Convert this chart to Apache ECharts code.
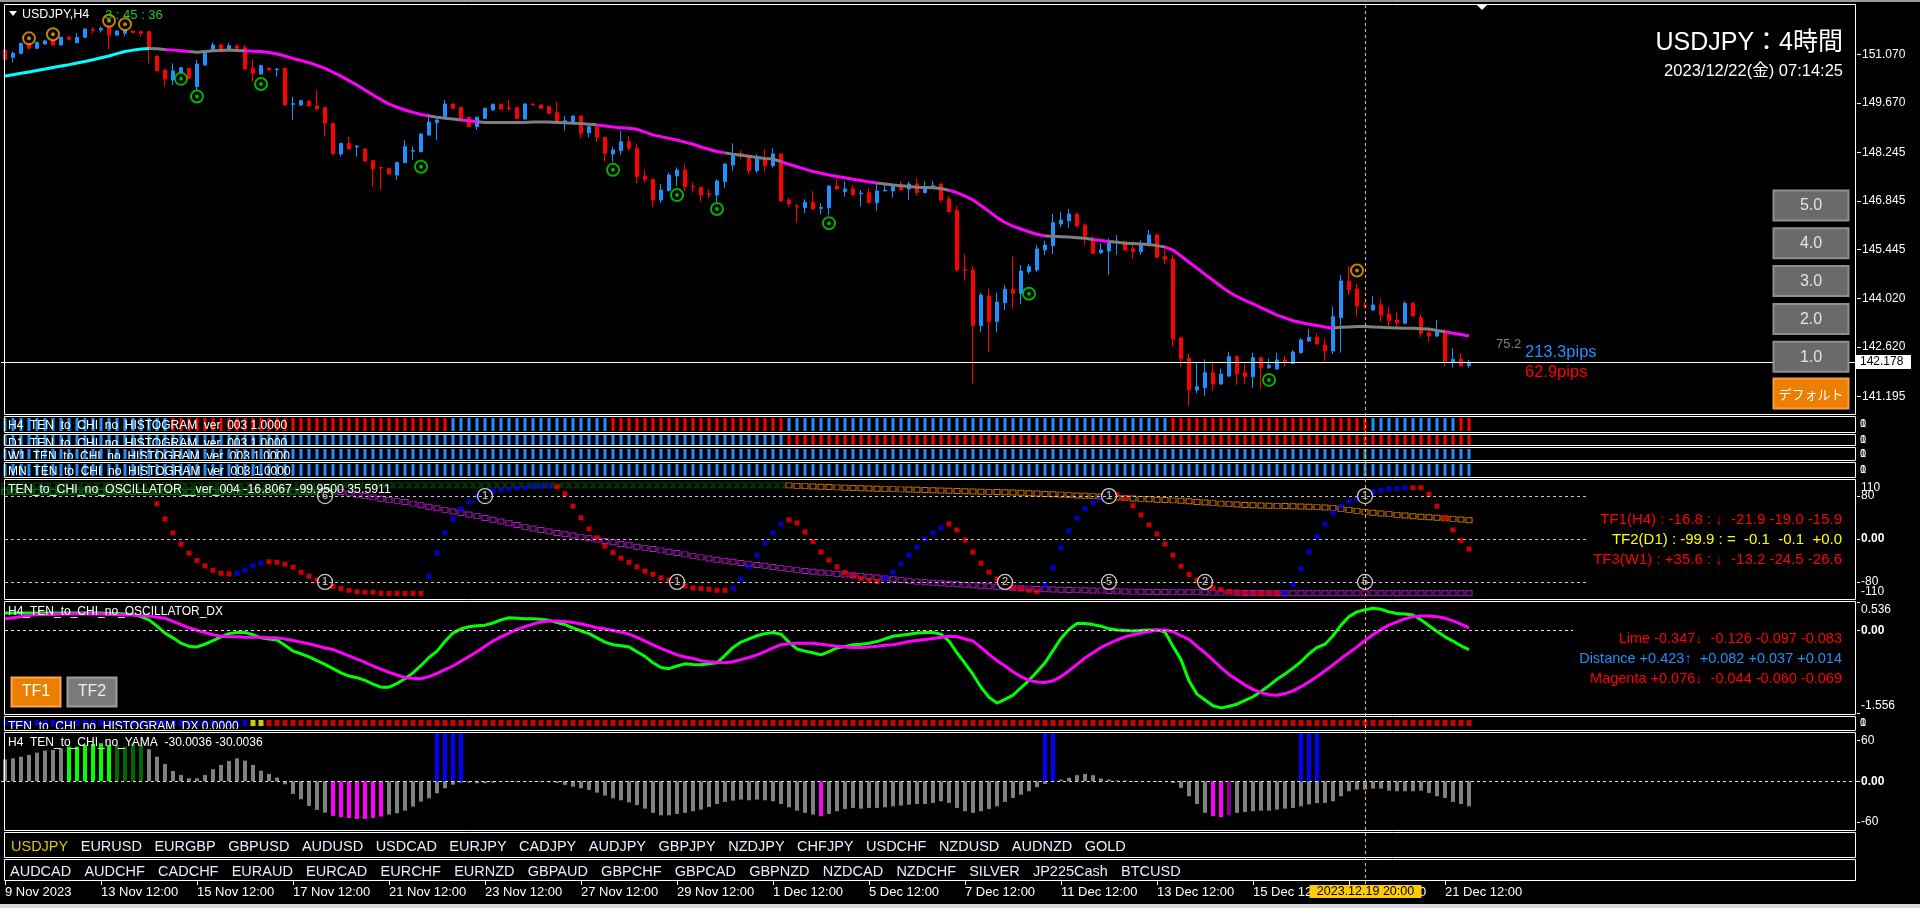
<!DOCTYPE html>
<html>
<head>
<meta charset="utf-8">
<title>USDJPY H4</title>
<script src="https://cdn.jsdelivr.net/npm/echarts@6.0.0/dist/echarts.min.js"></script>
<style>
html,body{margin:0;padding:0;background:#000;overflow:hidden;}
#chart{width:1920px;height:908px;}
</style>
</head>
<body>
<div id="chart"></div>
<script>
// ================= DATA =================
const opens = [151.204,150.992,151.108,151.377,151.252,151.377,151.474,151.348,151.570,151.416,
151.570,151.79,151.782,151.859,151.637,151.686,151.753,151.734,151.734,151.031,
150.626,150.337,150.558,150.674,150.144,150.770,151.204,151.348,151.233,151.320,
151.271,150.684,150.510,150.674,150.635,150.674,149.633,149.614,149.730,149.585,
149.547,149.084,148.198,148.506,148.40,148.343,148.005,147.81,147.784,147.591,
147.948,148.28,148.266,148.747,149.104,149.258,149.643,149.547,149.258,148.988,
149.229,149.470,149.634,149.53,149.537,149.210,149.64,149.614,149.566,149.393,
149.14,149.133,149.296,148.815,148.988,148.680,148.198,148.294,148.555,148.362,
147.563,147.466,146.869,147.139,147.563,147.736,147.265,147.235,147.05,147.013,
147.399,147.880,148.21,148.121,147.717,148.044,147.861,148.198,146.869,146.69,
146.647,146.801,146.63,146.647,147.273,147.110,147.187,147.05,147.081,146.792,
147.13,147.129,147.322,147.187,147.331,147.081,147.206,147.331,146.898,146.561,
144.86,144.846,143.237,144.094,143.352,143.902,144.287,144.171,144.798,144.846,
145.424,145.549,146.175,146.272,146.464,146.146,145.713,145.347,145.395,145.655,
145.665,145.453,145.376,145.568,145.857,145.231,145.164,142.881,142.302,141.378,
141.445,141.879,141.551,141.782,142.341,141.879,141.763,142.312,142.023,141.985,
142.245,142.148,142.457,142.794,142.900,142.678,142.505,143.468,144.528,144.297,
143.825,143.690,143.834,143.574,143.401,143.304,143.882,143.468,143.035,142.938,
143.035,142.177,142.264,142.081];
const highs = [151.25,151.156,151.42,151.40,151.44,151.50,151.50,151.59,151.60,151.686,
151.83,151.86,151.878,151.90,151.77,151.80,151.77,151.763,151.76,151.05,
150.64,150.819,150.71,150.69,150.915,151.13,151.42,151.37,151.41,151.38,
151.35,150.934,150.78,150.70,150.674,150.70,149.855,149.76,149.75,150.029,
149.56,149.10,148.52,148.70,148.458,148.36,148.02,147.832,147.80,147.97,
148.603,148.410,148.80,149.373,149.20,149.759,149.66,149.56,149.28,149.28,
149.54,149.66,149.66,149.759,149.56,149.66,149.66,149.64,149.59,149.711,
149.30,149.32,149.32,149.00,149.00,148.70,148.41,148.873,148.72,148.507,
147.736,147.48,147.331,147.668,147.813,147.900,147.389,147.25,147.177,147.466,
147.93,148.507,148.295,148.189,148.198,148.333,148.362,148.22,146.936,146.753,
146.888,147.129,146.773,147.29,147.476,147.399,147.302,147.158,147.206,147.351,
147.379,147.351,147.418,147.399,147.495,147.399,147.418,147.35,146.984,146.695,
145.308,144.961,144.191,144.316,144.191,144.412,145.231,144.990,145.019,145.568,
145.694,146.464,146.532,146.609,146.503,146.195,145.829,145.617,145.761,145.857,
145.694,145.568,145.713,146.002,145.906,145.443,145.279,142.919,142.437,142.168,
142.264,142.168,142.004,142.486,142.389,142.148,142.457,142.341,142.293,142.457,
142.360,142.534,142.881,143.141,143.015,142.852,143.786,144.701,144.961,144.441,
143.931,144.094,144.008,143.786,143.632,143.950,143.921,143.574,143.131,143.401,
143.131,142.582,142.437,142.245];
const lows = [150.92,150.838,151.08,151.23,151.23,151.35,151.33,151.33,151.50,151.40,
151.55,151.686,151.705,151.223,151.62,151.60,151.69,151.589,150.819,150.58,
150.144,150.192,150.54,150.37,150.048,150.75,151.19,151.18,151.21,151.23,
150.63,150.289,150.49,150.60,150.43,149.59,149.181,149.59,149.57,149.47,
148.699,148.17,148.12,148.32,148.121,147.98,147.254,147.158,147.60,147.447,
147.93,148.025,148.24,148.73,148.603,149.24,149.50,149.16,148.97,148.892,
149.21,149.45,149.48,149.451,149.21,149.19,149.60,149.50,149.35,149.084,
148.873,149.11,148.651,148.67,148.555,147.977,147.977,148.169,148.295,147.35,
147.370,146.657,146.792,147.12,147.273,147.129,147.081,146.821,146.917,146.821,
147.206,147.717,148.044,147.611,147.659,147.688,147.803,146.821,146.657,146.214,
146.484,146.580,146.455,146.435,147.158,146.965,147.00,146.676,146.773,146.561,
147.110,146.936,147.139,146.869,146.994,147.062,147.19,146.792,146.503,144.798,
144.537,141.570,143.044,142.485,143.044,143.690,143.738,143.853,144.730,144.798,
145.279,145.308,146.079,146.050,146.079,145.568,145.308,145.308,144.701,145.279,
145.40,145.164,145.279,145.520,145.183,145.019,142.630,142.033,140.915,141.281,
141.204,141.358,141.53,141.744,141.522,141.551,141.445,141.407,141.985,141.956,
142.052,142.129,142.428,142.765,142.697,142.216,142.418,142.457,144.123,143.497,
143.738,143.661,143.353,143.227,143.208,143.285,143.497,142.900,142.775,142.900,
142.052,142.023,142.052,142.023];
const closes = [150.934,151.108,151.397,151.252,151.425,151.464,151.348,151.570,151.512,151.570,
151.811,151.77,151.830,151.637,151.753,151.782,151.705,151.686,151.252,150.607,
150.366,150.597,150.693,150.385,150.799,151.108,151.348,151.204,151.329,151.252,
150.655,150.530,150.751,150.626,150.655,149.614,149.653,149.740,149.585,149.499,
149.084,148.198,148.506,148.343,148.42,147.996,147.765,147.79,147.620,147.957,
148.410,148.30,148.776,149.123,149.181,149.643,149.518,149.181,148.988,149.258,
149.518,149.634,149.499,149.51,149.229,149.643,149.62,149.518,149.373,149.133,
149.16,149.296,148.795,148.988,148.680,148.217,148.314,148.555,148.362,147.543,
147.466,146.869,147.158,147.591,147.736,147.254,147.245,147.013,147.03,147.418,
147.909,148.169,148.19,147.717,148.121,147.861,148.198,146.840,146.763,146.67,
146.801,146.609,146.65,147.273,147.187,147.187,147.013,147.07,146.792,147.129,
147.15,147.254,147.158,147.331,147.081,147.206,147.283,146.869,146.532,144.846,
144.84,143.237,144.123,143.352,143.921,144.287,144.171,144.817,144.942,145.453,
145.568,146.214,146.291,146.464,146.118,145.829,145.328,145.424,145.665,145.675,
145.424,145.376,145.568,145.857,145.212,145.154,142.852,142.274,141.378,141.474,
141.879,141.551,141.840,142.341,141.840,141.763,142.312,142.023,142.091,142.245,
142.168,142.476,142.823,142.900,142.707,142.505,143.497,144.528,144.268,143.805,
143.805,143.834,143.545,143.381,143.324,143.882,143.516,143.015,142.938,143.063,
142.197,142.264,142.081,142.178];

// moving average and its trend state (up = cyan, flat = gray, down = magenta)
const maValues = [150.45,150.49,150.53,150.57,150.61,150.655,150.70,150.74,150.78,150.83,
150.87,150.92,150.98,151.03,151.10,151.16,151.20,151.23,151.25,151.24,
151.22,151.20,151.18,151.16,151.14,151.16,151.18,151.19,151.20,151.19,
151.18,151.17,151.16,151.13,151.09,151.03,150.96,150.90,150.84,150.76,
150.67,150.56,150.45,150.32,150.19,150.05,149.90,149.77,149.64,149.55,
149.47,149.40,149.34,149.30,149.26,149.23,149.21,149.18,149.16,149.13,
149.11,149.11,149.11,149.11,149.11,149.11,149.12,149.12,149.12,149.11,
149.10,149.09,149.08,149.06,149.04,149.01,148.98,148.96,148.94,148.91,
148.83,148.75,148.70,148.65,148.60,148.54,148.48,148.40,148.33,148.27,
148.23,148.19,148.16,148.13,148.10,148.07,148.05,147.98,147.90,147.83,
147.76,147.69,147.64,147.59,147.55,147.51,147.47,147.43,147.39,147.36,
147.33,147.30,147.28,147.26,147.24,147.23,147.22,147.20,147.15,147.08,
146.98,146.87,146.71,146.54,146.36,146.22,146.11,146.03,145.95,145.88,
145.83,145.82,145.81,145.80,145.78,145.76,145.73,145.70,145.67,145.65,
145.62,145.61,145.60,145.58,145.55,145.51,145.42,145.25,145.07,144.90,
144.72,144.55,144.37,144.21,144.08,143.97,143.87,143.76,143.65,143.54,
143.46,143.38,143.33,143.28,143.24,143.20,143.17,143.19,143.20,143.21,
143.21,143.20,143.19,143.18,143.17,143.16,143.16,143.15,143.14,143.10,
143.06,143.02,142.98,142.94];
const maTrend = [[0,18,'up'],[18,20,'flat'],[20,23,'down'],[23,30,'flat'],[30,53,'down'],[53,57,'flat'],
[57,59,'down'],[59,74,'flat'],[74,90,'down'],[90,97,'flat'],[97,109,'down'],[109,118,'flat'],
[118,130,'down'],[130,136,'flat'],[136,138,'down'],[138,145,'flat'],[145,166,'down'],[166,180,'flat'],[180,183,'down']];

// signal rings
const orangeRingIdx = [3,6,13,15,169];
const orangeRingPrice = [151.54,151.66,152.05,151.95,144.83];
const greenRingIdx = [22,24,32,52,76,84,89,103,128,158];
const greenRingPrice = [150.37,149.86,150.22,147.83,147.74,147.01,146.61,146.20,144.16,141.67];

// price axis tick labels
const priceTicks = [151.070,149.670,148.245,146.845,145.445,144.020,142.620,141.195];

// histogram rows: u = blue, d = red
const h4Hist = [[0,20,'u'],[21,55,'d'],[56,75,'u'],[76,97,'d'],[98,145,'u'],[146,170,'d'],[171,181,'u'],[182,183,'d']];
const d1Hist = [[0,97,'u'],[98,183,'d']];
const w1Hist = [[0,183,'u']];
const mnHist = [[0,183,'u']];

// H4 oscillator (dots)
const oscH4 = [null,null,null,null,null,null,null,null,null,null,null,null,null,null,null,null,null,null,null,
65.7,37.5,11.2,-9.4,-26.3,-40.1,-50.1,-58.2,-63.9,-65.1,
-63.9,-58.2,-50.1,-45.1,-42.6,-43.2,-46.9,-52.5,-61.9,-69.4,
-76.4,-82,-88.2,-92.6,-95.7,-98.3,-99.4,-99.4,-101.3,-101.3,
-101.3,-101.3,-101.3,-101.3,-69.4,-26.3,11.2,37.5,55.5,69.4,
78.8,85,89.3,91.2,93.1,94.9,96.2,97.5,98.1,98.7,
97.5,84.4,61.2,39.4,18.8,2.4,-13.1,-25.1,-35.6,-43.1,
-51.8,-60,-65.6,-72.5,-76.8,-80.6,-87.5,-91.2,-92.5,-93.7,
-95.6,-95.6,-91.8,-75,-51.2,-30,-7.5,11.3,28.2,35.7,
30.1,13.2,-5,-24.3,-39.3,-51.8,-62.5,-68.7,-73.7,-76.8,
-79.3,-73.1,-61.8,-46.8,-30,-15,0,11.3,20.7,28.2,
16.9,-1.8,-24.3,-45,-61.8,-74.3,-80.6,-91.2,-93.1,-95.6,
-98.1,-85.6,-54.3,-16.8,15,38.8,56.3,67.5,76.3,80,
82.5,76.3,61.9,45,26.3,9.4,-9.4,-30,-50.6,-66.2,
-76.8,-80.6,-91.2,-94.3,-98.1,-99.3,-100,-101.2,-101.2,-101.2,
-101.2,-100,-85,-56,-24.4,5,28.1,48.8,61.3,70.6,
76,80,87.5,90.6,93.8,93.8,95.6,95.6,95.6,83.1,
61.3,39.4,16.9,-2.5,-18.8];
const oscTrend = [[19,28,'d'],[29,32,'u'],[33,52,'d'],[53,68,'u'],[69,90,'d'],[91,97,'u'],[98,109,'d'],
[110,117,'u'],[118,129,'d'],[130,138,'u'],[139,159,'d'],[160,175,'u'],[176,183,'d']];

// W1 line (hollow squares): dark green then orange
const tfW1 = [100,100,100,100,100,100,100,100,100,100,
100,100,100,100,100,100,100,100,100,100,
100,100,100,100,100,100,100,100,100,100,
100,100,100,100,100,100,100,100,100,100,
100,100,100,100,100,100,100,100,100,100,
100,100,100,100,100,100,100,100,100,100,
100,100,100,100,100,100,100,100,100,100,
100,100,100,100,100,100,100,100,100,100,
100,100,100,100,100,100,100,100,100,100,
100,100,100,100,100,100,100,100,
100,99,98.5,98,97.5,97,96.3,95.7,95.2,94.7,
94.2,93.8,93.4,93,92.6,92.2,91.9,91.4,90.9,90.4,
89.9,89.4,89,88.6,88.2,87.9,87.6,87.3,86.8,86.1,
85.4,84.8,84,83.5,82.8,81.8,81.2,80.6,80,79.2,
78.3,77.5,76.6,75.6,74.8,74,73.3,72.6,72,71.4,
70.3,69.1,68,66.9,65.9,65,64.2,63.5,62.9,62.4,
62.1,61.8,61.5,61,60.5,60,59.4,58.8,58.1,56.2,
54.3,52.4,50.6,48.8,47.5,46.3,45,43.8,42.5,41.5,
40.5,39.5,38.5,37.5,36.3,35];
const tfW1State = [[0,97,'dg'],[98,183,'or']];
// D1 line (hollow squares): green then magenta
const tfD1 = [88,88,88,88,88,88,88,88,88,88,
88,88,88,88,88,88,88,88,88,88,
88,88,88,88,88,88,88,88,88,88,
88,88,88,88,88,88,88,88,88,88,
88,88,
87.6,85,82.6,80,77.6,75.1,73,71,68.9,66,
63,60.1,57.2,54.3,51.4,48.5,45.6,42.6,39.3,36,
32.6,29.3,26,22.6,19.7,16.8,13.9,11.2,8.8,6.4,
3.9,1.4,-1.1,-3.6,-6.1,-9.3,-11.8,-14.3,-16.5,-18.7,
-21.2,-23.7,-26.2,-28.7,-31.5,-34.3,-36.5,-38.7,-40.6,-42.5,
-44.7,-46.8,-48.4,-50,-52.1,-54.3,-56.2,-58.1,-59.7,-61.2,
-62.5,-63.7,-65,-66.2,-67.5,-68.7,-70.3,-71.8,-73.4,-75,
-76.6,-78.1,-79.4,-80.6,-81.6,-82.5,-83.5,-84.4,-85.3,-86.2,
-87.2,-88.1,-89,-90,-90.9,-91.8,-92.5,-93.1,-93.7,-94.3,
-94.7,-95,-95.3,-95.6,-95.9,-96.2,-96.9,-97.5,-97.8,-98.1,
-98.4,-98.7,-98.7,-98.7,-99,-99.3,-99.3,-99.3,-99.7,-100,
-100,-100,-100.3,-100.6,-100.6,-100.6,-100.9,-101.2,-101.2,-101.2,
-101.2,-101.2,-101.2,-101.2,-101.2,-101.2,-101.2,-101.2,-101.2,-101.2,
-101.2,-101.2,-101.2,-101.2,-101.2,-101.2,-101.2,-101.2,-101.2,-101.2,
-101.2,-101.2];
const tfD1State = [[0,41,'g'],[42,183,'mg']];
// circled counters on oscillator: [bar, level, number]
const oscMarks = [[40,80,'6'],[40,-80,'1'],[60,80,'1'],[84,-80,'1'],[125,-80,'2'],[138,-80,'5'],[138,80,'1'],[150,-80,'2'],[170,80,'1'],[170,-80,'5']];
const oscLevels = [80,0,-80];
const oscTickVals = [80,0,-80];
const oscTickText = ['80','0.00','-80'];
const oscRangeVals = [110,-110];
const oscRangeText = ['110','-110'];

// DX oscillator
const dxLime = [.33,.33,.33,.33,.33,.33,.33,.33,.33,.33,
.33,.33,.33,.32,.32,.31,.30,.26,.20,.08,
-.05,-.14,-.24,-.30,-.31,-.26,-.19,-.12,-.06,-.04,
-.04,-.08,-.14,-.16,-.18,-.28,-.39,-.44,-.50,-.57,
-.64,-.72,-.80,-.86,-.89,-.94,-1.01,-1.07,-1.07,-1.00,
-.91,-.80,-.66,-.51,-.39,-.21,-.05,.03,.07,.09,
.10,.14,.20,.24,.23,.22,.22,.21,.19,.15,
.11,.05,-.01,-.06,-.14,-.22,-.27,-.29,-.31,-.40,
-.49,-.61,-.70,-.72,-.67,-.63,-.64,-.645,-.63,-.61,
-.47,-.32,-.22,-.16,-.10,-.06,-.04,-.07,-.22,-.35,
-.39,-.42,-.46,-.40,-.33,-.30,-.27,-.26,-.24,-.21,
-.16,-.11,-.09,-.07,-.05,-.04,-.04,-.07,-.20,-.42,
-.62,-.83,-1.07,-1.26,-1.37,-1.30,-1.22,-1.08,-.94,-.78,
-.61,-.38,-.15,.02,.13,.13,.11,.08,.03,.01,
.00,-.01,.00,.01,.01,-.03,-.30,-.55,-.95,-1.20,
-1.31,-1.42,-1.46,-1.43,-1.39,-1.32,-1.25,-1.15,-1.04,-.92,
-.82,-.71,-.59,-.44,-.32,-.26,-.10,.10,.26,.35,
.39,.42,.40,.35,.32,.31,.29,.20,.09,-.02,
-.12,-.20,-.29,-.36];
const dxMagenta = [.22,.24,.26,.28,.30,.30,.30,.31,.31,.31,
.31,.31,.31,.30,.30,.29,.29,.28,.27,.25,
.23,.17,.11,.05,.00,-.04,-.08,-.11,-.12,-.12,
-.13,-.13,-.13,-.14,-.14,-.16,-.19,-.22,-.25,-.29,
-.33,-.36,-.42,-.48,-.54,-.60,-.67,-.73,-.79,-.84,
-.89,-.90,-.91,-.87,-.81,-.74,-.67,-.58,-.49,-.40,
-.30,-.20,-.12,-.05,.02,.07,.12,.16,.18,.18,
.17,.15,.12,.09,.05,.03,.00,-.03,-.07,-.13,
-.20,-.27,-.34,-.40,-.46,-.50,-.53,-.57,-.59,-.60,
-.61,-.59,-.55,-.51,-.46,-.40,-.33,-.27,-.25,-.24,
-.24,-.24,-.26,-.28,-.30,-.31,-.32,-.32,-.31,-.30,
-.28,-.27,-.24,-.21,-.19,-.17,-.15,-.13,-.11,-.12,
-.16,-.20,-.32,-.45,-.57,-.67,-.78,-.87,-.94,-.97,
-.98,-.95,-.87,-.76,-.64,-.52,-.42,-.32,-.25,-.18,
-.12,-.08,-.05,-.02,.01,.01,-.02,-.10,-.17,-.30,
-.42,-.56,-.70,-.83,-.93,-1.03,-1.11,-1.17,-1.21,-1.22,
-1.19,-1.14,-1.06,-.97,-.87,-.76,-.65,-.53,-.42,-.31,
-.19,-.08,.02,.10,.16,.22,.26,.27,.27,.26,
.23,.18,.12,.05];
const dxTickVals = [0.536,0,-1.556];
const dxTickText = ['0.536','0.00','-1.556'];
// DX histogram: b = blue, y = yellow, r = red
const dxHist = [[0,30,'b'],[31,32,'y'],[33,183,'r']];

// YAMA histogram
const yamaValues = [32.1,33.6,36,38.5,41.9,44.8,45.8,48.2,50.7,50.7,
53.1,54.6,55.6,53.1,53.1,50.7,55.6,53.1,46.8,36,
25.3,15,9.2,4.3,4.3,9.2,17.5,23.8,29.7,33.6,
30.2,23.8,15.5,10.7,5.3,-4.5,-18.6,-26.4,-36.2,-42,
-46,-50.8,-52.8,-53.8,-55.2,-55.2,-53.8,-51.8,-48.9,-46.9,
-43,-37.2,-29.8,-25,-17.7,-10.3,-5,-2,-2,-3,
-3,-2,-1,-1,-1,-1,-0.5,-1,-1.5,-2.4,
-5.4,-7.9,-10.3,-12.8,-16.7,-21,-25,-28,-31,-35,
-40.1,-46.4,-49.9,-49.9,-47.9,-46.4,-44,-41.6,-37.7,-33.3,
-30.3,-28.4,-26.9,-27.9,-26.9,-27.9,-29.4,-33.3,-38.2,-43,
-46.4,-48.9,-51.3,-47.9,-44,-40.6,-39.1,-40.1,-39.1,-39.1,
-38.2,-36.7,-35.7,-34.3,-33.3,-33.3,-31.8,-29.4,-31.8,-39.1,
-44,-46.4,-44,-40.6,-36.7,-30.3,-24.5,-19.6,-14.7,-8.8,
-4,-1,2.4,4.8,8.8,10.6,8.8,3.9,2.4,1,
1,-1,0.3,-1,-1,0,-2.5,-9.8,-22,-33.3,
-46.4,-51.3,-52.8,-49.9,-46.4,-45,-44,-43,-43,-41.6,
-40.1,-39.1,-36.7,-34,-32,-31.8,-29.4,-22,-14.7,-12.3,
-12.3,-10.8,-10.8,-13.8,-14.7,-14.7,-14.7,-13.8,-17.2,-22,
-24.5,-30.3,-33.3,-36.7];
const yamaState = [[8,13,'lime'],[14,17,'dkgreen'],[41,47,'mag'],[102,102,'mag'],[151,152,'mag'],[153,153,'dkmag']];
const yamaSignalIdx = [54,55,56,57,130,131,162,163,164];
const yamaSignalValue = 100;
const yamaTickVals = [60,0,-60];
const yamaTickText = ['60','0.00','-60'];

// time axis labels
const xLabelIdx = [0,12,24,36,48,60,72,84,96,108,120,132,144,156,168,180];
const xLabelText = ['9 Nov 2023','13 Nov 12:00','15 Nov 12:00','17 Nov 12:00','21 Nov 12:00','23 Nov 12:00','27 Nov 12:00','29 Nov 12:00','1 Dec 12:00','5 Dec 12:00','7 Dec 12:00','11 Dec 12:00','13 Dec 12:00','15 Dec 12:00','19 Dec 12:00','21 Dec 12:00'];
const cursorIdx = 170;
const cursorLabel = '2023.12.19 20:00';

// symbol buttons
const symbolsRow1 = ['USDJPY','EURUSD','EURGBP','GBPUSD','AUDUSD','USDCAD','EURJPY','CADJPY','AUDJPY','GBPJPY','NZDJPY','CHFJPY','USDCHF','NZDUSD','AUDNZD','GOLD'];
const symbolsRow2 = ['AUDCAD','AUDCHF','CADCHF','EURAUD','EURCAD','EURCHF','EURNZD','GBPAUD','GBPCHF','GBPCAD','GBPNZD','NZDCAD','NZDCHF','SILVER','JP225Cash','BTCUSD'];
const activeSymbol = 'USDJPY';
const zoomButtons = ['5.0','4.0','3.0','2.0','1.0'];

// text readouts
const tfLines = ['TF1(H4) : -16.8 : \u2193  -21.9 -19.0 -15.9','TF2(D1) : -99.9 : =  -0.1  -0.1  +0.0','TF3(W1) : +35.6 : \u2193  -13.2 -24.5 -26.6'];
const dxLines = ['Lime -0.347\u2193  -0.126 -0.097 -0.083','Distance +0.423\u2191  +0.082 +0.037 +0.014','Magenta +0.076\u2193  -0.044 -0.060 -0.069'];

// ================= BUILD =================
const FONT = "'Liberation Sans','Noto Sans CJK JP',sans-serif";
const FONTJ = "'Noto Sans CJK JP','Liberation Sans',sans-serif";
const NB = opens.length;
const SLOTS = 232;
const cats = Array.from({length: SLOTS}, (_, i) => String(i));

function stateAt(segs, i, dflt) { for (const s of segs) { if (i >= s[0] && i <= s[1]) return s[2]; } return dflt; }
function inState(segs, i, st) { return segs.some(s => s[2] === st && i >= s[0] && i <= s[1]); }

const gridDefs = [
  {top:5, height:409},   // 0 main
  {top:418, height:13},  // 1 H4 hist
  {top:435, height:10},  // 2 D1 hist
  {top:449, height:10},  // 3 W1 hist
  {top:464, height:12},  // 4 MN hist
  {top:480, height:118}, // 5 oscillator
  {top:602, height:111}, // 6 DX
  {top:717, height:12},  // 7 DX hist
  {top:733, height:96},  // 8 YAMA
  {top:880, height:1}    // 9 time axis
];
const grid = gridDefs.map(g => ({left:1, width:1856, top:g.top, height:g.height, show:false, containLabel:false}));

const xLabelMap = new Map(xLabelIdx.map((i, k) => [i, xLabelText[k]]));
const xAxis = gridDefs.map((g, gi) => {
  const a = {type:'category', gridIndex:gi, data:cats, boundaryGap:true, axisLine:{show:false},
    axisTick:{show:false}, axisLabel:{show:false}, splitLine:{show:false}};
  if (gi === 9) {
    a.axisTick = {show:true, alignWithLabel:true, interval:(i) => xLabelMap.has(i), length:4, lineStyle:{color:'#ffffff'}};
    a.axisLabel = {show:true, interval:(i) => xLabelMap.has(i), formatter:(v, i) => xLabelMap.get(i) || '',
      align:'left', margin:5, color:'#ffffff', fontSize:13, fontFamily:FONT, hideOverlap:false};
  }
  return a;
});

function hiddenY(gi, min, max) { return {type:'value', gridIndex:gi, min, max, show:false, splitLine:{show:false}}; }
const RICH = {
  n: {color:'#ffffff', fontSize:12, fontFamily:FONT},
  b: {color:'#ffffff', fontSize:12, fontFamily:FONT, fontWeight:'bold'},
  dn: {color:'#ffffff', fontSize:12, fontFamily:FONT, padding:[16,0,0,0]},
  up: {color:'#ffffff', fontSize:12, fontFamily:FONT, padding:[0,0,14,0]}
};
function fmtPlain(vals, texts) {
  return function (v) {
    const k = vals.findIndex(x => Math.abs(x - v) < 1e-9);
    if (k < 0) return '';
    return texts[k] === '0.00' ? '{b|0.00}' : '{n|' + texts[k] + '}';
  };
}
function fmtEdge(vals, texts) {
  return function (v) {
    const k = vals.findIndex(x => Math.abs(x - v) < 1e-9);
    if (k < 0) return '';
    if (k === 0) return '{dn|' + texts[k] + '}';
    if (k === vals.length - 1) return '{up|' + texts[k] + '}';
    return texts[k] === '0.00' ? '{b|0.00}' : '{n|' + texts[k] + '}';
  };
}
function labelledY(gi, min, max, vals, fmt) {
  return {type:'value', gridIndex:gi, min, max, position:'right', splitLine:{show:false}, axisLine:{show:false},
    axisTick:{show:true, customValues:vals, length:3, lineStyle:{color:'#ffffff'}},
    axisLabel:{customValues:vals, formatter:fmt, margin:4, hideOverlap:false, rich:RICH}};
}

const yAxis = [
  {type:'value', gridIndex:0, min:140.684, max:152.504, position:'right', splitLine:{show:false}, axisLine:{show:false},
    axisTick:{show:true, customValues:priceTicks, length:4, lineStyle:{color:'#ffffff'}},
    axisLabel:{customValues:priceTicks, formatter:(v) => v.toFixed(3), color:'#ffffff', fontSize:12, fontFamily:FONT, margin:5}},
  hiddenY(1,0,1), hiddenY(2,0,1), hiddenY(3,0,1), hiddenY(4,0,1),
  labelledY(5, -110, 110, oscTickVals, fmtPlain(oscTickVals, oscTickText)),
  labelledY(6, -1.556, 0.536, dxTickVals, fmtEdge(dxTickVals, dxTickText)),
  hiddenY(7,0,1),
  labelledY(8, -70, 70.6, yamaTickVals, fmtPlain(yamaTickVals, yamaTickText)),
  hiddenY(9,0,1)
];

const series = [];
const C_UP = '#1E90FF', C_DN = '#FF0000';

// --- main price panel ---
series.push({type:'candlestick', name:'USDJPY', xAxisIndex:0, yAxisIndex:0, barWidth:4, z:2,
  data: opens.map((o, i) => [o, closes[i], lows[i], highs[i]]),
  itemStyle:{color:C_UP, color0:C_DN, borderColor:C_UP, borderColor0:C_DN, borderWidth:1},
  markLine:{silent:true, symbol:'none', label:{show:false}, lineStyle:{color:'#ffffff', width:1, type:'solid'},
    data:[{yAxis: closes[NB - 1]}]}
});
const maColors = {up:'#00FFFF', flat:'#7F7F7F', down:'#FF00FF'};
['down','flat','up'].forEach(st => {
  series.push({type:'line', xAxisIndex:0, yAxisIndex:0, z:3, silent:true, symbol:'none', showSymbol:false, connectNulls:false,
    data: maValues.map((v, i) => inState(maTrend, i, st) ? v : '-'),
    lineStyle:{color:maColors[st], width:3}});
});
function ringSeries(idx, prices, color) {
  const data = idx.map((i, k) => [i, prices[k]]);
  series.push({type:'scatter', xAxisIndex:0, yAxisIndex:0, z:5, silent:true, data, symbol:'circle', symbolSize:12,
    itemStyle:{color:'rgba(0,0,0,0)', borderColor:color, borderWidth:2}});
  series.push({type:'scatter', xAxisIndex:0, yAxisIndex:0, z:5, silent:true, data, symbol:'circle', symbolSize:4,
    itemStyle:{color:color}});
}
ringSeries(orangeRingIdx, orangeRingPrice, '#F5A000');
ringSeries(greenRingIdx, greenRingPrice, '#00E000');

// --- histogram rows ---
const HIST_COL = {u:'#1E90FF', d:'#FF0000'};
function histSeries(gi, segs) {
  const data = [];
  for (let i = 0; i < NB; i++) data.push({value:1, itemStyle:{color:HIST_COL[stateAt(segs, i, 'u')]}});
  series.push({type:'bar', xAxisIndex:gi, yAxisIndex:gi, data, barWidth:3, silent:true, z:2});
}
histSeries(1, h4Hist); histSeries(2, d1Hist); histSeries(3, w1Hist); histSeries(4, mnHist);
function titleSeries(gi, text, dy) {
  series.push({type:'custom', xAxisIndex:gi, yAxisIndex:gi, clip:true, silent:true, z:6, data:[[0, 0]],
    renderItem:(params) => ({type:'text', x: params.coordSys.x + 7, y: params.coordSys.y + dy,
      style:{text:text, fill:'#ffffff', font:"12px 'Liberation Sans'", verticalAlign:'top'}})});
}
titleSeries(1, 'H4_TEN_to_CHI_no_HISTOGRAM_ver_003 1.0000', 2);
titleSeries(2, 'D1_TEN_to_CHI_no_HISTOGRAM_ver_003 1.0000', 3);
titleSeries(3, 'W1_TEN_to_CHI_no_HISTOGRAM_ver_003 1.0000', 2);
titleSeries(4, 'MN_TEN_to_CHI_no_HISTOGRAM_ver_003 1.0000', 2);

// --- oscillator ---
const HOLLOW = {dg:'#007000', or:'#FF8C00', g:'#00B400', mg:'#D81EF0'};
function hollowSeries(vals, segs, withLevels) {
  const s = {type:'scatter', xAxisIndex:5, yAxisIndex:5, z:2, silent:true, symbol:'rect', symbolSize:[6,5],
    data: vals.map((v, i) => ({value:[i, v], itemStyle:{color:'rgba(0,0,0,0)', borderColor:HOLLOW[stateAt(segs, i, 'mg')], borderWidth:1}}))};
  if (withLevels) {
    s.markLine = {silent:true, symbol:'none', label:{show:false}, lineStyle:{color:'#C8C8C8', width:1, type:[3,3]},
      data: oscLevels.map(v => [{coord:[0, v]}, {coord:[198, v]}])};
  }
  series.push(s);
}
hollowSeries(tfW1, tfW1State, true);
hollowSeries(tfD1, tfD1State, false);
const OSC_COL = {u:'#0000FF', d:'#FF0000'};
const oscData = [];
oscH4.forEach((v, i) => { if (v !== null) oscData.push({value:[i, v], itemStyle:{color:OSC_COL[stateAt(oscTrend, i, 'd')]}}); });
series.push({type:'scatter', xAxisIndex:5, yAxisIndex:5, z:3, silent:true, symbol:'rect', symbolSize:5, data:oscData});
series.push({type:'scatter', xAxisIndex:5, yAxisIndex:5, z:4, silent:true, symbol:'circle', symbolSize:15,
  data: oscMarks.map(m => ({value:[m[0], m[1]], name:m[2]})),
  itemStyle:{color:'#000000', borderColor:'#ffffff', borderWidth:1.3},
  label:{show:true, position:'inside', formatter:'{b}', color:'#ffffff', fontSize:11, fontFamily:FONT}});

// --- DX oscillator ---
series.push({type:'line', xAxisIndex:6, yAxisIndex:6, z:2, silent:true, symbol:'none', showSymbol:false, data:dxLime,
  lineStyle:{color:'#00FF00', width:3},
  markLine:{silent:true, symbol:'none', label:{show:false}, lineStyle:{color:'#E0E0E0', width:1, type:[3,3]},
    data:[[{coord:[0, 0]}, {coord:[196, 0]}]]}});
series.push({type:'line', xAxisIndex:6, yAxisIndex:6, z:3, silent:true, symbol:'none', showSymbol:false, data:dxMagenta,
  lineStyle:{color:'#FF00FF', width:3}});

// --- DX histogram ---
const DXH_COL = {b:'#0000FF', y:'#FFFF00', r:'#FF0000'};
const dxhData = [];
for (let i = 0; i < NB; i++) dxhData.push({value:[i, 0.5], itemStyle:{color:DXH_COL[stateAt(dxHist, i, 'r')]}});
series.push({type:'scatter', xAxisIndex:7, yAxisIndex:7, z:2, silent:true, symbol:'rect', symbolSize:[5,6], data:dxhData});
titleSeries(7, 'TEN_to_CHI_no_HISTOGRAM_DX 0.0000', 4);

// --- YAMA ---
const YAMA_COL = {gray:'#808080', lime:'#00FF00', dkgreen:'#006A00', mag:'#FF00FF', dkmag:'#8B008B'};
series.push({type:'bar', xAxisIndex:8, yAxisIndex:8, z:2, silent:true, barWidth:4, barGap:'-100%',
  data: yamaValues.map((v, i) => ({value:v, itemStyle:{color:YAMA_COL[stateAt(yamaState, i, 'gray')]}})),
  markLine:{silent:true, symbol:'none', label:{show:false}, lineStyle:{color:'#E0E0E0', width:1, type:[3,3]}, data:[{yAxis:0}]}});
series.push({type:'bar', xAxisIndex:8, yAxisIndex:8, z:3, silent:true, barWidth:4, barGap:'-100%',
  data: yamaValues.map((v, i) => yamaSignalIdx.indexOf(i) >= 0 ? yamaSignalValue : '-'),
  itemStyle:{color:'#0000FF'}});

const option = {backgroundColor:'#000000', animation:false, grid, xAxis, yAxis, series};

const chart = echarts.init(document.getElementById('chart'), null, {renderer:'canvas', width:1920, height:908});
chart.setOption(option);

// ================= OVERLAY TEXT / FRAMES =================
const mctx = document.createElement('canvas').getContext('2d');
function tw(t, size) { mctx.font = size + 'px ' + FONT; return mctx.measureText(t).width; }
function txt(x, y, text, size, color, align, weight, family, z) {
  return {type:'text', x, y, z:z || 102, silent:true,
    style:{text, fill:color, font:(weight || 'normal') + ' ' + size + 'px ' + (family || FONT), align:align || 'left', verticalAlign:'middle'}};
}
const g = [];
// window strips
g.push({type:'rect', shape:{x:0, y:0, width:1920, height:2}, style:{fill:'#9A9A9A'}, z:99, silent:true});
g.push({type:'rect', shape:{x:0, y:904, width:1920, height:4}, style:{fill:'#D8D8D8'}, z:99, silent:true});
// panel frames
const panels = [[4,414],[416,432],[434,445],[447,460],[462,477],[479,599],[601,714],[716,730],[732,830],[832,857],[859,880]];
panels.forEach(p => g.push({type:'rect', shape:{x:4.5, y:p[0] + 0.5, width:1851, height:p[1] - p[0]},
  style:{fill:null, stroke:'#ffffff', lineWidth:1}, z:95, silent:true}));
// top-left symbol caption
g.push({type:'polygon', shape:{points:[[9,11],[17,11],[13,16]]}, style:{fill:'#ffffff'}, z:100, silent:true});
g.push(txt(22, 15, 'USDJPY,H4', 12.5, '#ffffff'));
g.push(txt(105, 15, '3 : 45 : 36', 13, '#22C822'));
// shift marker
g.push({type:'polygon', shape:{points:[[1477,5],[1487,5],[1482,10]]}, style:{fill:'#ffffff'}, z:100, silent:true});
// top-right title
g.push(txt(1843, 43, 'USDJPY\uFF1A4\u6642\u9593', 25, '#ffffff', 'right'));
g.push(txt(1843, 71, '2023/12/22(\u91D1) 07:14:25', 16.5, '#ffffff', 'right'));
// pips readouts
g.push(txt(1496, 344, '75.2', 13, '#808080'));
g.push(txt(1525, 352, '213.3pips', 16.5, '#1E90FF'));
g.push(txt(1525, 372, '62.9pips', 16.5, '#FF0000'));
// zoom buttons
zoomButtons.forEach((b, k) => {
  const y = 190 + k * 37.8;
  g.push({type:'rect', shape:{x:1773.5, y:y + 0.5, width:75, height:30}, style:{fill:'#6A6A6A', stroke:'#8F8F8F', lineWidth:2}, z:100, silent:true});
  g.push(txt(1811, y + 16, b, 16, '#E4E4E4', 'center'));
});
g.push({type:'rect', shape:{x:1773.5, y:378.5, width:75, height:30}, style:{fill:'#EC7F00', stroke:'#F5A140', lineWidth:2}, z:100, silent:true});
g.push(txt(1811, 394, '\u30C7\u30D5\u30A9\u30EB\u30C8', 13, '#ffffff', 'center', 'normal', FONTJ));
// histogram right labels
[424, 440, 454, 470, 723].forEach(y => { g.push(txt(1860, y, '1', 11, '#ffffff')); g.push(txt(1860, y, '0', 11, '#ffffff')); });
// oscillator caption and readouts
g.push(txt(8, 490, 'TEN_to_CHI_no_OSCILLATOR__ver_004 -16.8067 -99.9500 35.5911', 12.3, '#ffffff'));
const tfColors = ['#FF0000', '#FFFF00', '#FF0000'];
tfLines.forEach((t, k) => g.push(txt(1842, 520 + k * 20, t, 15, tfColors[k], 'right')));
// oscillator range labels (110 / -110), nudged inside the panel like the terminal does
oscRangeVals.forEach((v, k) => {
  const py = chart.convertToPixel({yAxisIndex:5}, v);
  g.push(txt(1861, py + (v > 0 ? 8 : -6), oscRangeText[k], 12, '#ffffff'));
});
// DX caption, readouts, buttons
g.push(txt(8, 612, 'H4_TEN_to_CHI_no_OSCILLATOR_DX', 12, '#ffffff'));
const dxColors = ['#FF0000', '#1E90FF', '#FF0000'];
dxLines.forEach((t, k) => g.push(txt(1842, 639 + k * 20, t, 14.5, dxColors[k], 'right')));
g.push({type:'rect', shape:{x:11.5, y:677.5, width:49, height:29}, style:{fill:'#EC7F00', stroke:'#F8A850', lineWidth:2}, z:100, silent:true});
g.push(txt(36, 692, 'TF1', 16, '#ffffff', 'center'));
g.push({type:'rect', shape:{x:67.5, y:677.5, width:49, height:29}, style:{fill:'#7A7A7A', stroke:'#9E9E9E', lineWidth:2}, z:100, silent:true});
g.push(txt(92, 692, 'TF2', 16, '#EDEDED', 'center'));
// YAMA caption
g.push(txt(8, 743, 'H4  TEN_to_CHI_no_YAMA  -30.0036 -30.0036', 12, '#ffffff'));
// symbol rows
function row(list, x0, y, gap) {
  let x = x0;
  list.forEach(s => { g.push(txt(x, y, s, 14.5, s === activeSymbol ? '#DCC800' : '#E6EEFF')); x += tw(s, 14.5) + gap; });
}
row(symbolsRow1, 11, 847, 12.5);
row(symbolsRow2, 10, 872, 13.2);

// cursor line, current price box, cursor time box (positions via axes)
const xc = Math.round(chart.convertToPixel({xAxisIndex:0}, cursorIdx)) + 0.5;
const yc = chart.convertToPixel({yAxisIndex:0}, closes[NB - 1]);
g.push({type:'line', shape:{x1:xc, y1:5, x2:xc, y2:885}, style:{stroke:'#FFC400', lineWidth:1, lineDash:[3,3]}, z:98, silent:true});
g.push({type:'rect', shape:{x:1856, y:Math.round(yc) - 7, width:55, height:14}, style:{fill:'#ffffff'}, z:103, silent:true});
g.push(txt(1860, Math.round(yc), closes[NB - 1].toFixed(3), 12, '#000000', 'left', 'normal', FONT, 104));
g.push({type:'rect', shape:{x:xc - 56, y:885, width:112, height:13}, style:{fill:'#FFCC00'}, z:103, silent:true});
g.push(txt(xc, 891.5, cursorLabel, 12.5, '#000000', 'center', 'normal', FONT, 104));

chart.setOption({graphic:{elements:g}});
</script>
</body>
</html>
